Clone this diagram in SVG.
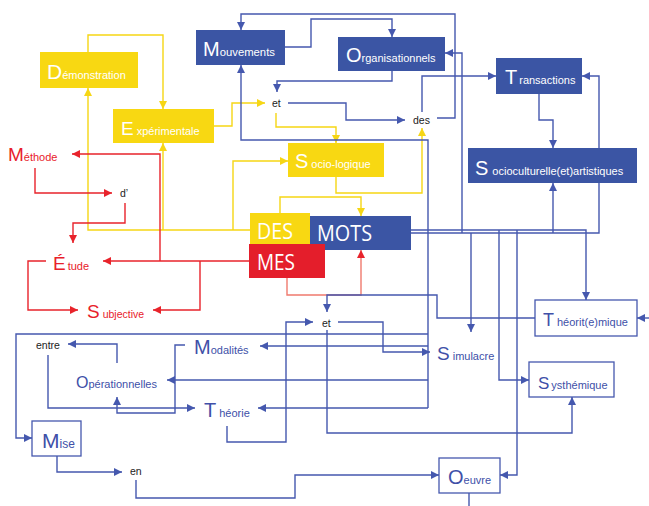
<svg xmlns="http://www.w3.org/2000/svg" width="649" height="506" viewBox="0 0 649 506">
<defs>
<marker id="ab" viewBox="0 0 8 8" refX="8" refY="4" markerWidth="8" markerHeight="8" markerUnits="userSpaceOnUse" orient="auto"><path d="M0,0 L8,4 L0,8 z" fill="#4558AE"/></marker>
<marker id="ar" viewBox="0 0 8 8" refX="8" refY="4" markerWidth="8" markerHeight="8" markerUnits="userSpaceOnUse" orient="auto"><path d="M0,0 L8,4 L0,8 z" fill="#E8232B"/></marker>
<marker id="ay" viewBox="0 0 8 8" refX="8" refY="4" markerWidth="8" markerHeight="8" markerUnits="userSpaceOnUse" orient="auto"><path d="M0,0 L8,4 L0,8 z" fill="#F6D615"/></marker>
</defs>
<style>
.b{fill:none;stroke:#4558AE;stroke-width:1.4}
.r{fill:none;stroke:#E8232B;stroke-width:1.4}
.rl{fill:none;stroke:#F07A6E;stroke-width:1.4}
.y{fill:none;stroke:#F6D615;stroke-width:1.4}
.t{font-family:"Liberation Sans",Arial,sans-serif;}
.w{fill:#fff}
.bt{fill:#4050A8}
.rt{fill:#E8202A}
.k{fill:#222;font-size:10.5px}
.big{font-family:"Open Sans","Liberation Sans",sans-serif;fill:#fff;font-size:21px}
.yb{fill:#F8D812}
.bb{fill:#3B55A4}
.wb{fill:#fff;stroke:#4558AE;stroke-width:1.3}
</style>
<rect width="649" height="506" fill="#fff"/>
<g id="connectors">
<!-- yellow -->
<path class="y" d="M88,52 V35 H163 V109" marker-end="url(#ay)"/>
<path class="y" d="M250,230 H88 V88" marker-end="url(#ay)"/>
<path class="y" d="M163,230 V143" marker-end="url(#ay)"/>
<path class="y" d="M214,126 H232 V103 H265" marker-end="url(#ay)"/>
<path class="y" d="M276,113 V127 H336 V143" marker-end="url(#ay)"/>
<path class="y" d="M233,230 V161 H288" marker-end="url(#ay)"/>
<path class="y" d="M336,177 V193 H422 V128" marker-end="url(#ay)"/>
<path class="y" d="M280,213 V197 H361 V216" marker-end="url(#ay)"/>
<!-- red -->
<path class="r" d="M249,261 H103" marker-end="url(#ar)"/>
<path class="r" d="M160,261 V154 H72" marker-end="url(#ar)"/>
<path class="r" d="M200,261 V310 H153" marker-end="url(#ar)"/>
<path class="r" d="M35,168 V193 H112" marker-end="url(#ar)"/>
<path class="r" d="M125,203 V223 H73 V243" marker-end="url(#ar)"/>
<path class="r" d="M46,261 H28 V310 H78" marker-end="url(#ar)"/>
<path class="rl" d="M287,278 V295 H361 V250" marker-end="url(#ar)"/>
<!-- blue -->
<path class="b" d="M437,118 H455 V14 H241 V30" marker-end="url(#ab)"/>
<path class="b" d="M285,47 H311 V19 H392 V37" marker-end="url(#ab)"/>
<path class="b" d="M392,71 V81 H277 V92" marker-end="url(#ab)"/>
<path class="b" d="M288,103 H346 V120 H405" marker-end="url(#ab)"/>
<path class="b" d="M428,408 V140 H241 V65" marker-end="url(#ab)"/>
<path class="b" d="M428,334 H16 V438 H32" marker-end="url(#ab)"/>
<path class="b" d="M428,346 H260" marker-end="url(#ab)"/>
<path class="b" d="M428,380 H167" marker-end="url(#ab)"/>
<path class="b" d="M428,408 H258" marker-end="url(#ab)"/>
<path class="b" d="M535,318 H437 V295 H327 V312" marker-end="url(#ab)"/>
<path class="b" d="M327,330 V433 H572 V397" marker-end="url(#ab)"/>
<path class="b" d="M227,426 V442 H286 V322 H313" marker-end="url(#ab)"/>
<path class="b" d="M338,322 H383 V352 H430" marker-end="url(#ab)"/>
<path class="b" d="M411,230 H586 V300" marker-end="url(#ab)"/>
<path class="b" d="M411,233 H599 V76 H582" marker-end="url(#ab)"/>
<path class="b" d="M462,233 V53 H445" marker-end="url(#ab)"/>
<path class="b" d="M553,233 V183" marker-end="url(#ab)"/>
<path class="b" d="M471,233 V332" marker-end="url(#ab)"/>
<path class="b" d="M499,230 V380 H529" marker-end="url(#ab)"/>
<path class="b" d="M517,230 V475 H500" marker-end="url(#ab)"/>
<path class="b" d="M652,318 H637" marker-end="url(#ab)"/>
<path class="b" d="M469,493 V508"/>
<path class="b" d="M539,94 V120 H553 V148" marker-end="url(#ab)"/>
<path class="b" d="M422,112 V76 H496" marker-end="url(#ab)"/>
<path class="b" d="M117,363 V344 H68" marker-end="url(#ab)"/>
<path class="b" d="M48,355 V408 H195" marker-end="url(#ab)"/>
<path class="b" d="M185,345 H175 V413 H117 V397" marker-end="url(#ab)"/>
<path class="b" d="M57,456 V472 H122" marker-end="url(#ab)"/>
<path class="b" d="M136,480 V498 H295 V475 H439" marker-end="url(#ab)"/>
</g>
<g id="demonstration"><rect class="yb" x="40" y="52" width="98" height="36"/><text class="t w" x="47" y="79"><tspan font-size="21">D</tspan><tspan font-size="11">émonstration</tspan></text></g>
<g id="experimentale"><rect class="yb" x="113" y="109" width="101" height="34"/><text class="t w" x="121" y="135"><tspan font-size="19">E</tspan><tspan font-size="11" dx="3">xpérimentale</tspan></text></g>
<g id="mouvements"><rect class="bb" x="196" y="30" width="89" height="35"/><text class="t w" x="203" y="56"><tspan font-size="20">M</tspan><tspan font-size="11.3">ouvements</tspan></text></g>
<g id="organisationnels"><rect class="bb" x="338" y="37" width="107" height="34"/><text class="t w" x="346" y="62"><tspan font-size="20">O</tspan><tspan font-size="11">rganisationnels</tspan></text></g>
<g id="transactions"><rect class="bb" x="496" y="58" width="86" height="36"/><text class="t w" x="505" y="84"><tspan font-size="20">T</tspan><tspan font-size="11" dx="2">ransactions</tspan></text></g>
<g id="socioculturelle"><rect class="bb" x="468" y="148" width="169" height="35"/><text class="t w" x="475" y="175"><tspan font-size="20">S</tspan><tspan font-size="11" dx="4">ocioculturelle(et)artistiques</tspan></text></g>
<g id="sociologique"><rect class="yb" x="288" y="143" width="96" height="34"/><text class="t w" x="295" y="168"><tspan font-size="20">S</tspan><tspan font-size="11" dx="3">ocio-logique</tspan></text></g>
<g id="des-box"><rect class="yb" x="250" y="213" width="60" height="31"/><text class="big" x="257" y="239" textLength="36" lengthAdjust="spacingAndGlyphs">DES</text></g>
<g id="mots"><rect class="bb" x="310" y="216" width="101" height="34"/><text class="big" x="317" y="241" textLength="55" lengthAdjust="spacingAndGlyphs">MOTS</text></g>
<g id="mes"><rect fill="#E41E2B" x="249" y="244" width="76" height="34"/><text class="big" x="257" y="270" textLength="38" lengthAdjust="spacingAndGlyphs">MES</text></g>
<g id="methode"><text class="t rt" x="8" y="161"><tspan font-size="19">M</tspan><tspan font-size="11">éthode</tspan></text></g>
<g id="d"><text class="t k" x="120" y="197">d’</text></g>
<g id="etude"><text class="t rt" x="53" y="270"><tspan font-size="19">É</tspan><tspan font-size="11" dx="2">tude</tspan></text></g>
<g id="subjective"><text class="t rt" x="87" y="318"><tspan font-size="19">S</tspan><tspan font-size="10.5" dx="3">ubjective</tspan></text></g>
<g id="et1"><text class="t k" x="272" y="107">et</text></g>
<g id="des"><text class="t k" x="413" y="124">des</text></g>
<g id="et2"><text class="t k" x="322" y="327">et</text></g>
<g id="entre"><text class="t k" x="36" y="349">entre</text></g>
<g id="modalites"><text class="t bt" x="194" y="354"><tspan font-size="20">M</tspan><tspan font-size="11">odalités</tspan></text></g>
<g id="operationnelles"><text class="t bt" x="76" y="388"><tspan font-size="16">O</tspan><tspan font-size="11">pérationnelles</tspan></text></g>
<g id="theorie"><text class="t bt" x="204" y="417"><tspan font-size="20">T</tspan><tspan font-size="11" dx="3">héorie</tspan></text></g>
<g id="simulacre"><text class="t bt" x="437" y="360"><tspan font-size="19">S</tspan><tspan font-size="11" dx="3">imulacre</tspan></text></g>
<g id="theoritemique"><rect class="wb" x="535" y="300" width="102" height="36"/><text class="t bt" x="543" y="326"><tspan font-size="18">T</tspan><tspan font-size="11" dx="3">héorit(e)mique</tspan></text></g>
<g id="systhemique"><rect class="wb" x="529" y="362" width="85" height="35"/><text class="t bt" x="538" y="389"><tspan font-size="17">S</tspan><tspan font-size="11" dx="2">ysthémique</tspan></text></g>
<g id="mise"><rect class="wb" x="32" y="421" width="49" height="35"/><text class="t bt" x="42" y="448"><tspan font-size="21">M</tspan><tspan font-size="12">ise</tspan></text></g>
<g id="en"><text class="t k" x="130" y="475">en</text></g>
<g id="oeuvre"><rect class="wb" x="439" y="458" width="61" height="35"/><text class="t bt" x="448" y="484"><tspan font-size="20">O</tspan><tspan font-size="11">euvre</tspan></text></g>
</svg>
